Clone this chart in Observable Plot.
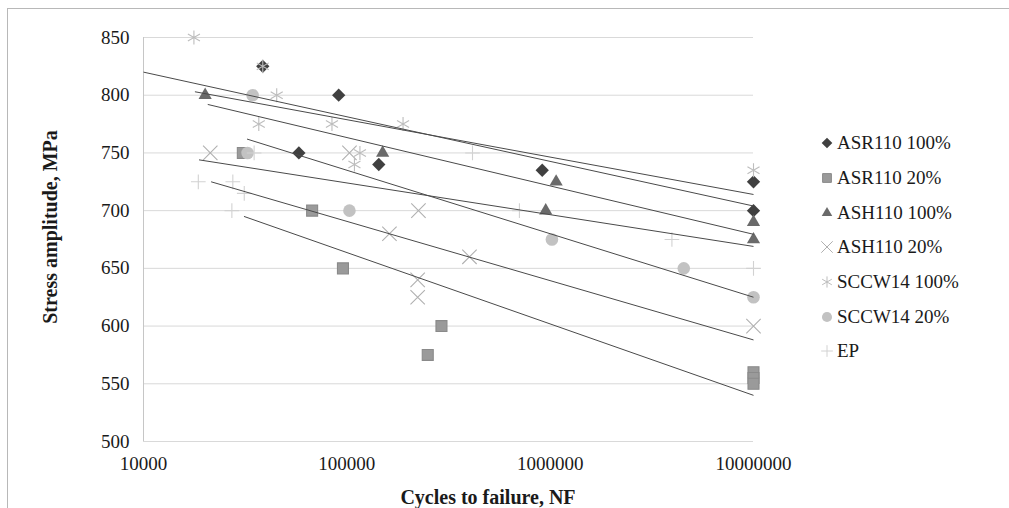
<!DOCTYPE html>
<html><head><meta charset="utf-8">
<script src="https://cdn.jsdelivr.net/npm/d3@7"></script>
<script src="https://cdn.jsdelivr.net/npm/@observablehq/plot@0.6"></script>
<style>
body{margin:0;background:#fff;}
#wrap{position:relative;width:1009px;height:508px;overflow:hidden;font-family:"Liberation Serif","Times New Roman",serif;color:#1a1a1a;background:#fff;}
#frame{position:absolute;left:7px;top:8px;width:1010px;height:510px;border-top:1px solid #b8b8b8;border-left:1px solid #b8b8b8;pointer-events:none;}
#chart{position:absolute;left:0;top:0;}
.title{position:absolute;font-weight:bold;font-size:20px;white-space:nowrap;color:#1a1a1a;}
#ytitle{left:50px;top:227px;transform:translate(-50%,-50%) rotate(-90deg);}
#xtitle{left:488px;top:497px;transform:translate(-50%,-50%);}
#legend{position:absolute;left:818px;top:126px;font-size:19px;}
.lrow{display:flex;align-items:center;height:34.7px;white-space:nowrap;}
.lrow svg{display:block;margin-right:1px;}
</style></head>
<body>
<div id="wrap">
  <div id="chart"></div>
  <div id="frame"></div>
  <div class="title" id="ytitle">Stress amplitude, MPa</div>
  <div class="title" id="xtitle">Cycles to failure, NF</div>
  <div id="legend"></div>
</div>
<script>
// ---- data ----
const seriesNames = ["ASR110 100%", "ASR110 20%", "ASH110 100%", "ASH110 20%", "SCCW14 100%", "SCCW14 20%", "EP"];

const asr110_100_N = [38600, 91200, 58100, 143600, 914000, 10000000, 10000000];
const asr110_100_S = [825, 800, 750, 740, 735, 725, 700];

const asr110_20_N = [30800, 67500, 95700, 292000, 250000, 10000000, 10000000, 10000000];
const asr110_20_S = [750, 700, 650, 600, 575, 560, 555, 550];

const ash110_100_N = [20100, 150000, 1070000, 951000, 10000000, 10000000];
const ash110_100_S = [800, 750, 725, 700, 690, 675];

const ash110_20_N = [21300, 103000, 225000, 162000, 401000, 223000, 223000, 10000000];
const ash110_20_S = [750, 750, 700, 680, 660, 640, 625, 600];

const sccw14_100_N = [17700, 38600, 45200, 36900, 84500, 189000, 116000, 109000, 10000000];
const sccw14_100_S = [850, 825, 800, 775, 775, 775, 750, 740, 735];

const sccw14_20_N = [34400, 32500, 103000, 1020000, 4540000, 10000000];
const sccw14_20_S = [800, 750, 700, 675, 650, 625];

const ep_N = [18600, 27500, 31300, 27200, 35000, 415000, 706000, 3970000, 10000000];
const ep_S = [725, 725, 715, 700, 750, 750, 700, 675, 650];

// trendlines (logarithmic fits as drawn), one per series, in series order
const trendStartN = [10000, 31200, 20700, 21500, 17900, 32300, 18750];
const trendStartS = [820, 695, 792, 725, 803, 762, 744];
const trendEndN   = [10000000, 10000000, 10000000, 10000000, 10000000, 10000000, 10000000];
const trendEndS   = [704, 540, 679.5, 588, 714, 625, 669];

const xTicks = [10000, 100000, 1000000, 10000000];
const yTicks = [500, 550, 600, 650, 700, 750, 800, 850];

// ---- styles ----
const seriesN = [asr110_100_N, asr110_20_N, ash110_100_N, ash110_20_N, sccw14_100_N, sccw14_20_N, ep_N];
const seriesS = [asr110_100_S, asr110_20_S, ash110_100_S, ash110_20_S, sccw14_100_S, sccw14_20_S, ep_S];
const styles = [
  {symbol: "diamond2", d3sym: d3.symbolDiamond2, r: 6.0, fill: "#404040", stroke: "none"},
  {symbol: "square",   d3sym: d3.symbolSquare,   r: 6.2, fill: "#9a9a9a", stroke: "#8a8a8a"},
  {symbol: "triangle", d3sym: d3.symbolTriangle, r: 4.9, fill: "#6a6a6a", stroke: "none"},
  {symbol: "times",    d3sym: d3.symbolTimes,    r: 6.6, fill: "none", stroke: "#b0b0b0"},
  {symbol: "asterisk", d3sym: d3.symbolAsterisk, r: 6.6, fill: "none", stroke: "#bdbdbd"},
  {symbol: "circle",   d3sym: d3.symbolCircle,   r: 6.3, fill: "#c2c2c2", stroke: "none"},
  {symbol: "plus",     d3sym: d3.symbolPlus,     r: 4.8, fill: "none", stroke: "#d2d2d2"}
];

const points = seriesNames.map((name, i) =>
  seriesN[i].map((n, j) => ({series: name, n, s: seriesS[i][j]})));
const trends = seriesNames.map((name, i) => ({
  series: name, n1: trendStartN[i], s1: trendStartS[i], n2: trendEndN[i], s2: trendEndS[i]
}));

const marks = [
  Plot.ruleY(yTicks, {stroke: "#d9d9d9", strokeWidth: 1}),
  Plot.ruleX(xTicks.slice(0, 1), {y1: yTicks[0], y2: yTicks[yTicks.length - 1], stroke: "#c6c6c6"}),
  Plot.axisY({ticks: yTicks, tickSize: 0, tickPadding: 14, label: null, fill: "#1a1a1a"}),
  Plot.axisX({ticks: xTicks, tickSize: 0, tickPadding: 15, label: null, tickFormat: d => String(d), fill: "#1a1a1a"})
];
points.forEach((pts, i) => {
  const st = styles[i];
  marks.push(Plot.dot(pts, {
    x: "n", y: "s", symbol: st.symbol, r: st.r,
    fill: st.fill, stroke: st.stroke, strokeWidth: 1.1
  }));
});
marks.push(Plot.link(trends, {x1: "n1", y1: "s1", x2: "n2", y2: "s2", stroke: "#4a4a4a", strokeWidth: 1}));

const chart = Plot.plot({
  width: 1009, height: 508,
  marginLeft: 143, marginRight: 256, marginTop: 37, marginBottom: 67,
  style: {fontFamily: '"Liberation Serif", "Times New Roman", serif', fontSize: "19px", background: "#fff", color: "#1a1a1a"},
  x: {type: "log", domain: [xTicks[0], xTicks[xTicks.length - 1]]},
  y: {domain: [yTicks[0], yTicks[yTicks.length - 1]]},
  marks
});
document.getElementById("chart").appendChild(chart);

// legend
const legend = document.getElementById("legend");
seriesNames.forEach((name, i) => {
  const st = styles[i];
  const row = document.createElement("div");
  row.className = "lrow";
  const size = Math.PI * (st.r * 0.8) ** 2;
  const path = d3.symbol(st.d3sym, size)();
  row.innerHTML = `<svg width="18" height="18" viewBox="-9 -9 18 18"><path d="${path}" fill="${st.fill}" stroke="${st.stroke}" stroke-width="1"/></svg><span>${name}</span>`;
  legend.appendChild(row);
});
</script>
</body></html>
